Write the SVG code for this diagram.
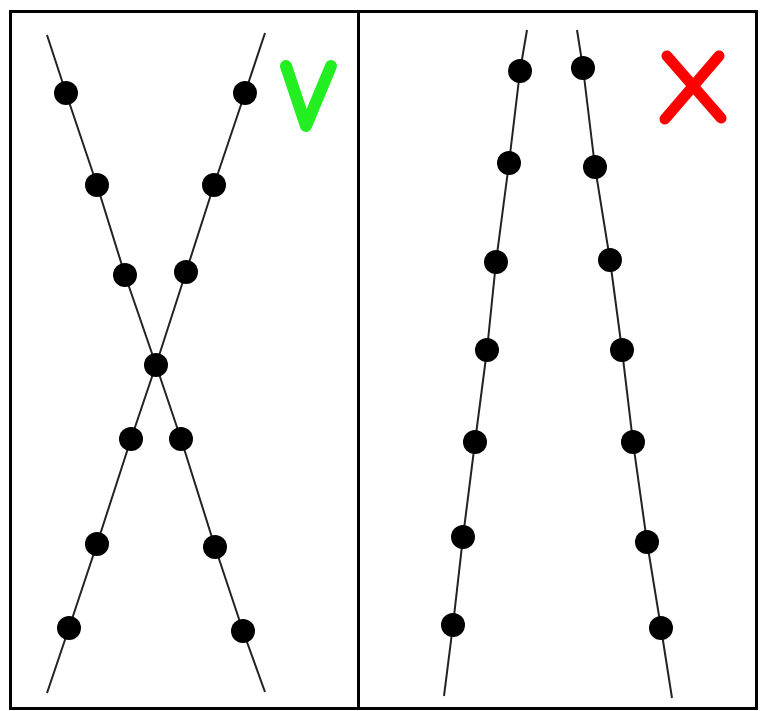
<svg xmlns="http://www.w3.org/2000/svg" width="760" height="711" viewBox="0 0 760 711">
<style>
.frame{fill:none;stroke:#000;stroke-width:3}
.ln{fill:none;stroke:#222;stroke-width:2;stroke-linejoin:round}
.dot{fill:#000}
.ok{fill:none;stroke:#22ee22;stroke-width:12;stroke-linecap:round;stroke-linejoin:round}
.no{fill:none;stroke:#ff0000;stroke-width:11;stroke-linecap:round}
</style>
<rect width="760" height="711" fill="#fff"/>
<g id="frame">
<rect class="frame" x="10.5" y="11.5" width="746" height="697"/>
<line class="frame" x1="358.5" y1="11" x2="358.5" y2="709"/>
</g>
<g id="connectors">
<polyline class="ln" points="47,35 66,93 97,185 125,275 156,365 181,439 215,547 243,631 265,692"/>
<polyline class="ln" points="265,33 245,93 214,185 186,272 156,365 131,439 97,544 69,628 47,693"/>
<polyline class="ln" points="527,30 520,71 509,163 496,262 487,350 475,442 463,537 453,625 444,696"/>
<polyline class="ln" points="577,30 583,68 595,167 610,260 622,350 633,442 647,542 661,628 672,698"/>
</g>
<g id="left-dots">
<circle class="dot" cx="66" cy="93" r="12"/>
<circle class="dot" cx="97" cy="185" r="12"/>
<circle class="dot" cx="125" cy="275" r="12"/>
<circle class="dot" cx="156" cy="365" r="12"/>
<circle class="dot" cx="181" cy="439" r="12"/>
<circle class="dot" cx="215" cy="547" r="12"/>
<circle class="dot" cx="243" cy="631" r="12"/>
<circle class="dot" cx="245" cy="93" r="12"/>
<circle class="dot" cx="214" cy="185" r="12"/>
<circle class="dot" cx="186" cy="272" r="12"/>
<circle class="dot" cx="131" cy="439" r="12"/>
<circle class="dot" cx="97" cy="544" r="12"/>
<circle class="dot" cx="69" cy="628" r="12"/>
</g>
<g id="right-dots">
<circle class="dot" cx="520" cy="71" r="12"/>
<circle class="dot" cx="509" cy="163" r="12"/>
<circle class="dot" cx="496" cy="262" r="12"/>
<circle class="dot" cx="487" cy="350" r="12"/>
<circle class="dot" cx="475" cy="442" r="12"/>
<circle class="dot" cx="463" cy="537" r="12"/>
<circle class="dot" cx="453" cy="625" r="12"/>
<circle class="dot" cx="583" cy="68" r="12"/>
<circle class="dot" cx="595" cy="167" r="12"/>
<circle class="dot" cx="610" cy="260" r="12"/>
<circle class="dot" cx="622" cy="350" r="12"/>
<circle class="dot" cx="633" cy="442" r="12"/>
<circle class="dot" cx="647" cy="542" r="12"/>
<circle class="dot" cx="661" cy="628" r="12"/>
</g>
<g id="check">
<polyline class="ok" points="286,66 306,126 331,66"/>
</g>
<g id="cross">
<line class="no" x1="667" y1="56" x2="721" y2="118"/>
<line class="no" x1="719" y1="56" x2="665" y2="119"/>
</g>
</svg>
